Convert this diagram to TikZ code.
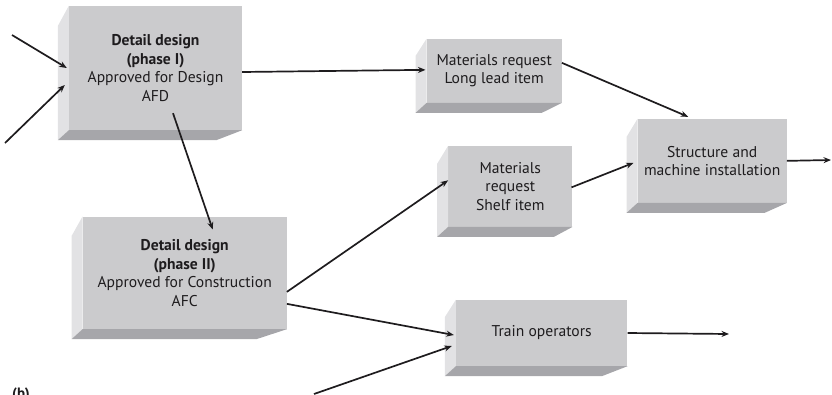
\documentclass[tikz,border=0pt]{standalone}
\usepackage{fontspec}
\setmainfont{PT Sans}
\usetikzlibrary{calc,arrows.meta}

\definecolor{facegray}{RGB}{203,203,205}
\definecolor{sidelight}{RGB}{226,226,228}
\definecolor{sidedark}{RGB}{166,166,170}
\definecolor{ink}{RGB}{30,28,30}

\tikzset{
  face/.style={fill=facegray, draw=none, inner sep=0pt, align=center,
    text=ink, font=\fontsize{15.6}{18.5}\selectfont},
  link/.style={draw=ink, line width=1.7pt, -{Stealth[length=7.5pt,width=6pt]}},
}

% Bevelled block: name, left, top, right, bottom, text
\newcommand\blockbox[6]{%
  \pgfmathsetmacro\bw{#4-(#2)}%
  \pgfmathsetmacro\bh{#5-(#3)}%
  \pgfmathsetmacro\topdrop{14+0.05*\bh}%
  \pgfmathsetmacro\slant{0.15*\bw}%
  \node[face, minimum width=\bw pt, minimum height=\bh pt]
    (#1) at ({(#2+#4)/2},{(#3+#5)/2}) {#6};
  \fill[sidelight] (#1.north west) -- ($(#1.north west)+(-11,\topdrop)$)
    -- ($(#1.south west)+(-11,10)$) -- (#1.south west) -- cycle;
  \fill[sidedark] (#1.south west) -- ($(#1.south west)+(-11,10)$)
    -- ($(#1.south east)+(-\slant,10)$) -- (#1.south east) -- cycle;
}

\begin{document}
\begin{tikzpicture}[x=1pt,y=-1pt]
  \useasboundingbox (0,0) rectangle (832,394);
  \clip (0,0) rectangle (832,394);

  \blockbox{d1}{69}{6}{242}{130}{\textbf{Detail design}\\\textbf{(phase I)}\\Approved for Design\\AFD}
  \blockbox{d2}{82.7}{216.7}{286.7}{329}{\textbf{Detail design}\\\textbf{(phase II)}\\Approved for Construction\\AFC}
  \blockbox{d3}{426.7}{39}{561.7}{102.7}{Materials request\\Long lead item}
  \blockbox{d4}{448.3}{146}{572.3}{226.7}{Materials\\request\\Shelf item}
  \blockbox{d5}{637.7}{119}{786.7}{202.7}{Structure and\\machine installation}
  \blockbox{d6}{456}{300}{627.3}{366}{Train operators}

  % free ends of incoming and outgoing connectors
  \coordinate (in1) at (12,35);
  \coordinate (in2) at (5,143);
  \coordinate (in3) at (314,394);
  \coordinate (out5) at (831,160);
  \coordinate (out6) at (729,334);

  \draw[link] (in1) -- ($(d1.west)+(-2,0)$);
  \draw[link] (in2) -- ($(d1.west)+(-4,17)$);
  \draw[link] ($(d1.east)+(0,4)$) -- ($(d3.west)+(-1,-1)$);
  \draw[link] ($(d1.south)+(17.5,-17)$) -- ($(d2.north)+(28,13)$);
  \draw[link] ($(d3.east)+(0,-8)$) -- ($(d5.north)+(-24,-2)$);
  \draw[link] ($(d4.east)+(-1,1)$) -- ($(d5.west)+(-4,2)$);
  \draw[link] (d5.east) -- (out5);
  \draw[link] ($(d2.east)+(0,19)$) -- ($(d4.west)+(0,-6)$);
  \draw[link] ($(d2.east)+(0,31)$) -- ($(d6.west)+(-2,2)$);
  \draw[link] (in3) -- ($(d6.west)+(-4,13)$);
  \draw[link] (d6.east) -- (out6);

  \node[anchor=north west, inner sep=0pt, text=ink, font=\bfseries\fontsize{15}{18}\selectfont]
    (tag) at (12,388) {(b)};
\end{tikzpicture}
\end{document}
